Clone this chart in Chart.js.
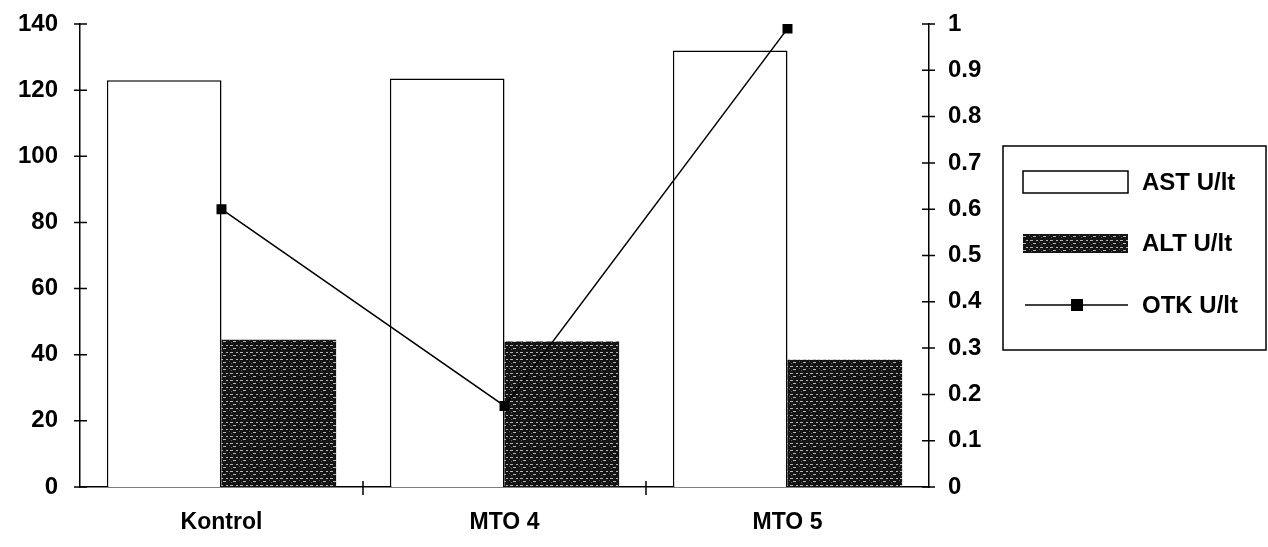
<!DOCTYPE html>
<html lang="en">
<head>
    <meta charset="UTF-8">
    <script src="https://cdn.jsdelivr.net/npm/chart.js@4.4.0/dist/chart.umd.min.js"></script>
    <title>AST / ALT / OTK</title>
    <style>
        body { margin: 0; background: #fff; }
        canvas { display: block; }
    </style>
</head>
<body>
    <canvas id="chart" width="1268" height="547"></canvas>

    <script>
        const categories = ["Kontrol", "MTO 4", "MTO 5"];
        const astValues = [123, 123.5, 132];
        const altValues = [44.5, 44, 38.5];
        const otkValues = [0.6, 0.175, 0.99];
        const seriesNames = ["AST U/lt", "ALT U/lt", "OTK U/lt"];

        const FONT = "Liberation Sans, Arial, sans-serif";

        // dark speckled fill like the printed bars
        function makePattern() {
            const c = document.createElement("canvas");
            c.width = 10; c.height = 7;
            const g = c.getContext("2d");
            g.fillStyle = "#141414";
            g.fillRect(0, 0, 10, 7);
            g.fillStyle = "#b4b4b4";
            g.fillRect(0, 2, 3, 1);
            g.fillRect(6, 2, 2, 1);
            g.fillRect(3, 5, 3, 1);
            g.fillStyle = "#606060";
            g.fillRect(9, 4, 1, 1);
            g.fillRect(1, 6, 1, 1);
            return g.createPattern(c, "repeat");
        }
        const altFill = makePattern();

        // tick marks that cross the axis lines
        const crossTicks = {
            id: "crossTicks",
            afterDraw(chart) {
                const ctx = chart.ctx;
                const area = chart.chartArea;
                ctx.save();
                ctx.strokeStyle = "#000";
                ctx.lineWidth = 1.5;
                ctx.beginPath();
                for (const t of chart.scales.y.ticks) {
                    const y = chart.scales.y.getPixelForValue(t.value);
                    ctx.moveTo(area.left - 6, y);
                    ctx.lineTo(area.left + 7, y);
                }
                for (const t of chart.scales.y1.ticks) {
                    const y = chart.scales.y1.getPixelForValue(t.value);
                    ctx.moveTo(area.right - 7, y);
                    ctx.lineTo(area.right + 6, y);
                }
                const xs = chart.scales.x;
                for (let i = 1; i < categories.length; i++) {
                    const x = (xs.getPixelForTick(i - 1) + xs.getPixelForTick(i)) / 2;
                    ctx.moveTo(x, area.bottom - 6);
                    ctx.lineTo(x, area.bottom + 8);
                }
                ctx.stroke();
                ctx.restore();
            }
        };

        // boxed legend on the right
        const boxLegend = {
            id: "boxLegend",
            afterDraw(chart) {
                const ctx = chart.ctx;
                ctx.save();
                ctx.strokeStyle = "#000";
                ctx.lineWidth = 1.5;
                ctx.strokeRect(1003, 146, 263, 204);

                // AST
                ctx.fillStyle = "#fff";
                ctx.fillRect(1023, 171, 105, 22);
                ctx.strokeRect(1023, 171, 105, 22);
                // ALT
                ctx.fillStyle = altFill;
                ctx.fillRect(1023, 234, 105, 19);
                // OTK
                ctx.beginPath();
                ctx.moveTo(1025, 305);
                ctx.lineTo(1128, 305);
                ctx.stroke();
                ctx.fillStyle = "#000";
                ctx.fillRect(1071, 299, 12, 12);

                ctx.fillStyle = "#000";
                ctx.font = "bold 24px " + FONT;
                ctx.textBaseline = "middle";
                ctx.fillText(seriesNames[0], 1142, 183);
                ctx.fillText(seriesNames[1], 1142, 244);
                ctx.fillText(seriesNames[2], 1142, 306);
                ctx.restore();
            }
        };

        function noLabelPad(scale) {
            scale.paddingTop = 0;
            scale.paddingBottom = 0;
        }

        new Chart("chart", {
            data: {
                labels: categories,
                datasets: [
                    {
                        type: "line",
                        label: seriesNames[2],
                        data: otkValues,
                        yAxisID: "y1",
                        borderColor: "#000",
                        borderWidth: 1.5,
                        pointStyle: "rect",
                        pointRadius: 6,
                        pointBackgroundColor: "#000",
                        pointBorderColor: "#000",
                        tension: 0,
                        order: 0
                    },
                    {
                        type: "bar",
                        label: seriesNames[0],
                        data: astValues,
                        yAxisID: "y",
                        backgroundColor: "#fff",
                        borderColor: "#000",
                        borderWidth: 1.5,
                        categoryPercentage: 0.81,
                        barPercentage: 1.0,
                        order: 1
                    },
                    {
                        type: "bar",
                        label: seriesNames[1],
                        data: altValues,
                        yAxisID: "y",
                        backgroundColor: altFill,
                        borderWidth: 0,
                        categoryPercentage: 0.81,
                        barPercentage: 1.0,
                        order: 1
                    }
                ]
            },
            options: {
                responsive: false,
                animation: false,
                layout: { padding: { left: 0, right: 269, top: 24, bottom: 0 } },
                plugins: {
                    legend: { display: false },
                    tooltip: { enabled: false }
                },
                scales: {
                    x: {
                        grid: { display: false, drawTicks: false },
                        border: { display: true, color: "#000", width: 1.5 },
                        ticks: { color: "#000", font: { family: FONT, size: 23, weight: "bold" }, padding: 22, maxRotation: 0 },
                        afterFit(scale) { scale.height = 60; scale.paddingLeft = 0; scale.paddingRight = 0; }
                    },
                    y: {
                        position: "left",
                        min: 0,
                        max: 140,
                        grid: { display: false, drawTicks: false },
                        border: { display: true, color: "#000", width: 1.5 },
                        ticks: { stepSize: 20, color: "#000", font: { family: FONT, size: 24, weight: "bold" }, padding: 22 },
                        afterFit(scale) { scale.width = 80; noLabelPad(scale); }
                    },
                    y1: {
                        position: "right",
                        min: 0,
                        max: 1,
                        grid: { display: false, drawTicks: false },
                        border: { display: true, color: "#000", width: 1.5 },
                        ticks: {
                            stepSize: 0.1,
                            color: "#000",
                            font: { family: FONT, size: 24, weight: "bold" },
                            padding: 19,
                            callback: v => String(Number(v.toFixed(1)))
                        },
                        afterFit(scale) { scale.width = 70; noLabelPad(scale); }
                    }
                }
            },
            plugins: [crossTicks, boxLegend]
        });
    </script>
</body>
</html>
